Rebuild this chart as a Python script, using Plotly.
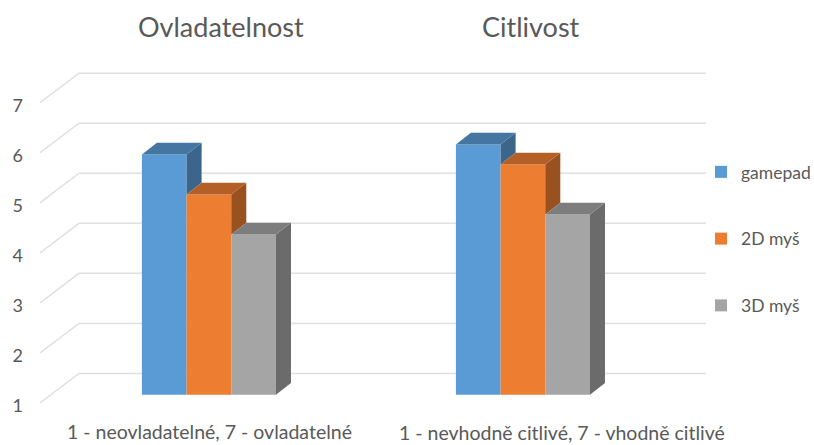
import plotly.graph_objects as go

# --- data ---
series_names = ["gamepad", "2D myš", "3D myš"]
gamepad = [5.8, 6.0]
mys_2d = [5.0, 5.6]
mys_3d = [4.2, 4.6]
group_positions = [0, 1]
y_ticks = [1, 2, 3, 4, 5, 6, 7]
titles = ["Ovladatelnost", "Citlivost"]
scale_notes = ["1 - neovladatelné, 7 - ovladatelné", "1 - nevhodně citlivé, 7 - vhodně citlivé"]

# --- style ---
FRONT = ["#5B9BD5", "#ED7D31", "#A5A5A5"]
TOP = ["#4576A2", "#B45F25", "#7D7D7D"]
SIDE = ["#3B658B", "#9A5120", "#6B6B6B"]
TEXT = "#595959"
GRID = "#E0E0E0"
FONT = "Lato, Carlito, Calibri, sans-serif"

BAR_W = 0.1423
BAR_DX, BAR_DY = 0.0478, 0.235
WALL_DX, WALL_DY = 0.1242, 0.59
X_RANGE = [-0.538, 1.583]
Y_RANGE = [0.76, 7.853]
Y2_RANGE = [0.594, 7.687]
BASE = 1

values = [gamepad, mys_2d, mys_3d]
fig = go.Figure()

# back wall and left wall gridlines
for v in y_ticks:
    fig.add_trace(go.Scatter(
        x=[X_RANGE[0], X_RANGE[0] + WALL_DX, X_RANGE[1]],
        y=[v, v + WALL_DY, v + WALL_DY],
        mode="lines", line=dict(color=GRID, width=1.5),
        showlegend=False, hoverinfo="skip", yaxis="y"))

# front faces
for i, name in enumerate(series_names):
    fig.add_trace(go.Bar(
        x=group_positions, y=[v - BASE for v in values[i]], base=BASE,
        name=name, marker=dict(color=FRONT[i], line=dict(width=0)),
        yaxis="y2", legendgroup=name))

# top and side faces, drawn on the same scales from the same values
for g, cx in enumerate(group_positions):
    for i in range(3):
        v = values[i][g]
        left = cx + (i - 1.5) * BAR_W
        right = left + BAR_W
        below = values[i + 1][g] if i < 2 else BASE
        fig.add_trace(go.Scatter(
            x=[right, right + BAR_DX, right + BAR_DX, right, right],
            y=[v, v + BAR_DY, below + BAR_DY, below, v],
            fill="toself", fillcolor=SIDE[i], mode="lines", line=dict(width=0),
            showlegend=False, hoverinfo="skip", yaxis="y2"))
        fig.add_trace(go.Scatter(
            x=[left, left + BAR_DX, right + BAR_DX, right, left],
            y=[v, v + BAR_DY, v + BAR_DY, v, v],
            fill="toself", fillcolor=TOP[i], mode="lines", line=dict(width=0),
            showlegend=False, hoverinfo="skip", yaxis="y2"))

fig.update_layout(
    width=814, height=445,
    margin=dict(l=40, r=108, t=60, b=30, autoexpand=False),
    paper_bgcolor="white", plot_bgcolor="white",
    font=dict(family=FONT, color=TEXT, size=17),
    barmode="group", bargap=1 - 3 * BAR_W, bargroupgap=0,
    xaxis=dict(range=X_RANGE, visible=False),
    yaxis=dict(range=Y_RANGE, tickmode="array", tickvals=y_ticks, showgrid=False,
               zeroline=False, showline=False, ticks="", ticklabelstandoff=16,
               ticklabelshift=3,
               tickfont=dict(size=18, color=TEXT, family=FONT)),
    yaxis2=dict(range=Y2_RANGE, overlaying="y", side="left", visible=False),
    legend=dict(x=(711 - 40) / 666, xanchor="left", y=(445 - 154 - 30) / 355, yanchor="top",
                tracegroupgap=41, font=dict(size=17.5, color=TEXT, family=FONT),
                indentation=-10,
                bgcolor="rgba(0,0,0,0)", itemclick=False, itemdoubleclick=False),
    showlegend=True,
    annotations=[
        *[dict(text=t, x=(px - 40) / 666, y=(445 - 27 - 30) / 355, xref="paper", yref="paper",
               xanchor="center", yanchor="middle",
               showarrow=False, font=dict(size=27, color=TEXT, family=FONT))
          for t, px in zip(titles, [221, 531])],
        *[dict(text=t, x=(px - 40) / 666, y=(445 - py - 30) / 355, xref="paper", yref="paper",
               xanchor="center", yanchor="middle",
               showarrow=False, font=dict(size=19.5, color=TEXT, family=FONT))
          for t, px, py in zip(scale_notes, [209, 562], [431, 432])],
    ],
)
fig.write_html("out.html", config={"displayModeBar": False},
               post_script="document.body.style.margin='0';document.body.style.overflow='hidden';")
